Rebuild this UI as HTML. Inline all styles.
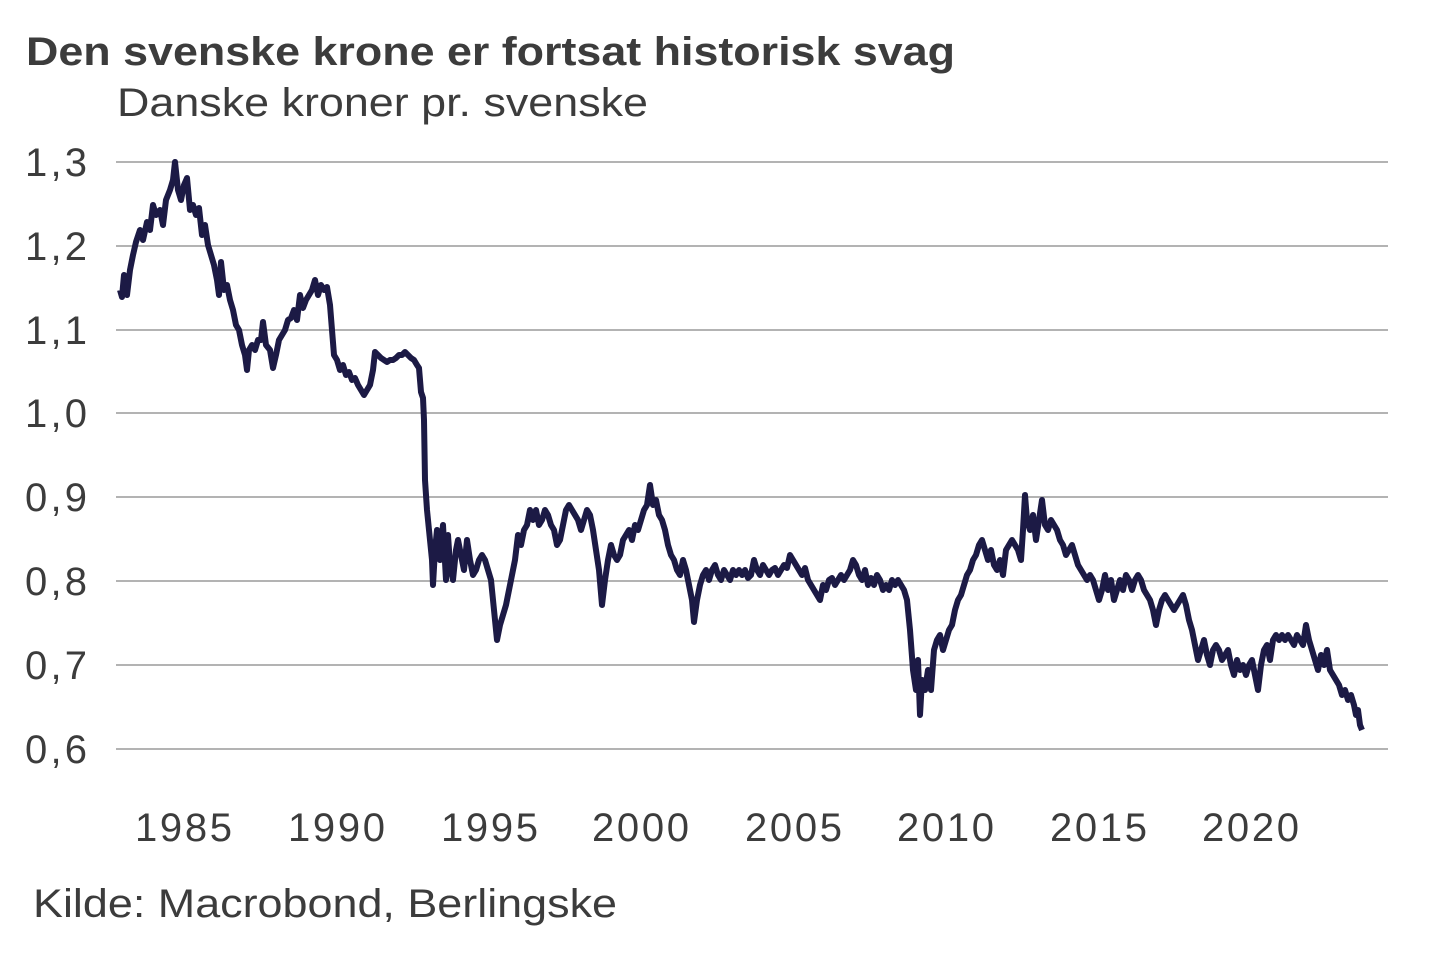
<!DOCTYPE html>
<html><head><meta charset="utf-8"><style>
html,body{margin:0;padding:0;background:#fff;width:1440px;height:960px;overflow:hidden}
svg text{font-family:"Liberation Sans",Arial,sans-serif;fill:#3c3c3c}
</style></head><body>
<svg width="1440" height="960" viewBox="0 0 1440 960" xmlns="http://www.w3.org/2000/svg">
<text x="26" y="65" font-size="40" font-weight="bold" textLength="929" lengthAdjust="spacingAndGlyphs">Den svenske krone er fortsat historisk svag</text>
<text x="117" y="116" font-size="40" textLength="531" lengthAdjust="spacingAndGlyphs">Danske kroner pr. svenske</text>
<g stroke="#9a9a9a" stroke-width="1.5">
<line x1="116" y1="162" x2="1388" y2="162"/><line x1="116" y1="246" x2="1388" y2="246"/>
<line x1="116" y1="330" x2="1388" y2="330"/><line x1="116" y1="413" x2="1388" y2="413"/>
<line x1="116" y1="497" x2="1388" y2="497"/><line x1="116" y1="581" x2="1388" y2="581"/>
<line x1="116" y1="665" x2="1388" y2="665"/><line x1="116" y1="749" x2="1388" y2="749"/>
</g>
<g font-size="40" lengthAdjust="spacingAndGlyphs">
<text x="25" y="176" textLength="62">1,3</text><text x="25" y="260" textLength="62">1,2</text><text x="25" y="344" textLength="62">1,1</text>
<text x="25" y="427" textLength="62">1,0</text><text x="25" y="511" textLength="62">0,9</text><text x="25" y="595" textLength="62">0,8</text>
<text x="25" y="679" textLength="62">0,7</text><text x="25" y="763" textLength="62">0,6</text>
</g>
<g font-size="40" lengthAdjust="spacingAndGlyphs">
<text x="135" y="841" textLength="97">1985</text><text x="288" y="841" textLength="97">1990</text><text x="441" y="841" textLength="97">1995</text>
<text x="592" y="841" textLength="97">2000</text><text x="745" y="841" textLength="97">2005</text><text x="897" y="841" textLength="97">2010</text>
<text x="1050" y="841" textLength="97">2015</text><text x="1202" y="841" textLength="97">2020</text>
</g>
<text x="33" y="917" font-size="40" textLength="584" lengthAdjust="spacingAndGlyphs">Kilde: Macrobond, Berlingske</text>
<polyline fill="none" stroke="#1c1a45" stroke-width="6" stroke-linejoin="round" points="120,290 122,297 124,275 127,295 130,270 133,255 136,242 140,230 143,240 147,222 150,230 153,205 156,215 160,210 163,225 166,200 170,190 173,180 175,162 178,190 181,200 184,185 187,178 190,210 193,205 196,215 199,208 202,235 205,225 208,245 211,255 214,265 217,280 219,295 221,262 224,290 227,285 230,300 233,310 236,325 239,330 242,345 245,355 247,370 249,350 252,345 255,350 258,340 261,340 263,322 266,345 270,350 273,368 276,355 279,340 282,335 285,330 288,320 291,318 294,310 297,320 300,295 303,308 306,300 309,295 312,290 315,280 318,295 321,285 324,290 327,287 330,305 332,330 334,355 337,360 340,370 343,365 346,375 349,372 352,380 355,378 358,385 361,390 364,395 367,390 370,385 373,370 375,352 378,355 381,358 384,360 387,362 390,360 393,360 396,358 399,355 402,355 405,352 408,355 411,358 414,360 417,365 419,368 421,392 423,398 424,420 425,480 427,510 430,540 432,560 433,585 435,550 437,530 440,560 443,525 446,580 448,535 450,565 453,580 456,550 458,540 461,555 464,570 467,540 470,560 473,575 476,570 479,560 482,555 485,560 488,570 491,580 494,610 497,640 500,625 503,615 506,605 509,590 512,575 515,560 518,535 521,545 524,530 527,525 530,510 533,520 536,510 539,525 542,520 545,510 548,515 551,525 554,530 557,545 560,540 563,525 566,510 569,505 572,510 575,515 578,520 581,530 584,520 587,510 590,515 593,530 596,550 599,570 602,605 605,580 608,560 611,545 614,555 617,560 620,555 623,540 626,535 629,530 632,540 635,525 638,530 641,520 644,510 647,505 650,485 653,505 656,500 659,515 662,520 665,530 668,545 671,555 674,560 677,570 680,575 683,560 686,570 689,585 692,600 694,622 697,600 700,585 703,575 706,570 709,580 712,570 715,565 718,575 721,580 724,570 727,575 730,580 733,570 736,575 739,570 742,575 745,570 748,578 751,575 754,560 757,570 760,575 763,565 766,570 769,575 772,570 775,568 778,575 781,570 784,565 787,568 790,555 793,560 796,565 799,570 802,575 805,568 808,580 811,585 814,590 817,595 820,600 823,585 826,590 829,580 832,578 835,585 838,580 841,575 844,580 847,575 850,570 853,560 856,565 859,575 862,580 865,570 868,585 871,578 874,585 877,575 880,580 883,590 886,585 889,590 892,580 895,585 898,580 901,585 904,590 907,600 910,630 913,670 916,690 918,660 920,715 922,680 925,690 928,670 931,690 934,650 937,640 940,635 943,650 946,640 949,630 952,625 955,610 958,600 961,595 964,585 967,575 970,570 973,560 976,555 979,545 982,540 985,550 988,560 991,550 994,565 997,570 1000,560 1003,575 1006,550 1009,545 1012,540 1015,545 1018,550 1021,560 1023,530 1025,495 1027,520 1030,530 1033,515 1036,540 1039,520 1042,500 1045,525 1048,530 1051,520 1054,525 1057,530 1060,540 1063,545 1066,555 1069,550 1072,545 1075,555 1078,565 1081,570 1084,575 1087,580 1090,575 1093,580 1096,590 1099,600 1102,590 1105,575 1108,590 1111,580 1114,600 1117,590 1120,580 1123,590 1126,575 1129,580 1132,590 1135,580 1138,575 1141,580 1144,590 1147,595 1150,600 1153,610 1156,625 1159,610 1162,600 1165,595 1168,600 1171,605 1174,610 1177,605 1180,600 1183,595 1186,605 1189,620 1192,630 1195,645 1198,660 1201,650 1204,640 1207,655 1210,665 1213,650 1216,645 1219,650 1222,660 1225,655 1228,650 1231,665 1234,675 1237,660 1240,670 1243,665 1246,675 1249,665 1252,660 1255,675 1258,690 1261,665 1264,650 1267,645 1270,660 1273,640 1276,635 1279,640 1282,635 1285,640 1288,635 1291,640 1294,645 1297,635 1300,640 1303,645 1306,625 1309,640 1312,650 1315,660 1318,670 1321,655 1324,665 1327,650 1330,670 1333,675 1336,680 1339,685 1342,695 1345,690 1348,700 1351,695 1354,705 1356,715 1358,710 1360,725 1362,730"/>
</svg>
</body></html>
